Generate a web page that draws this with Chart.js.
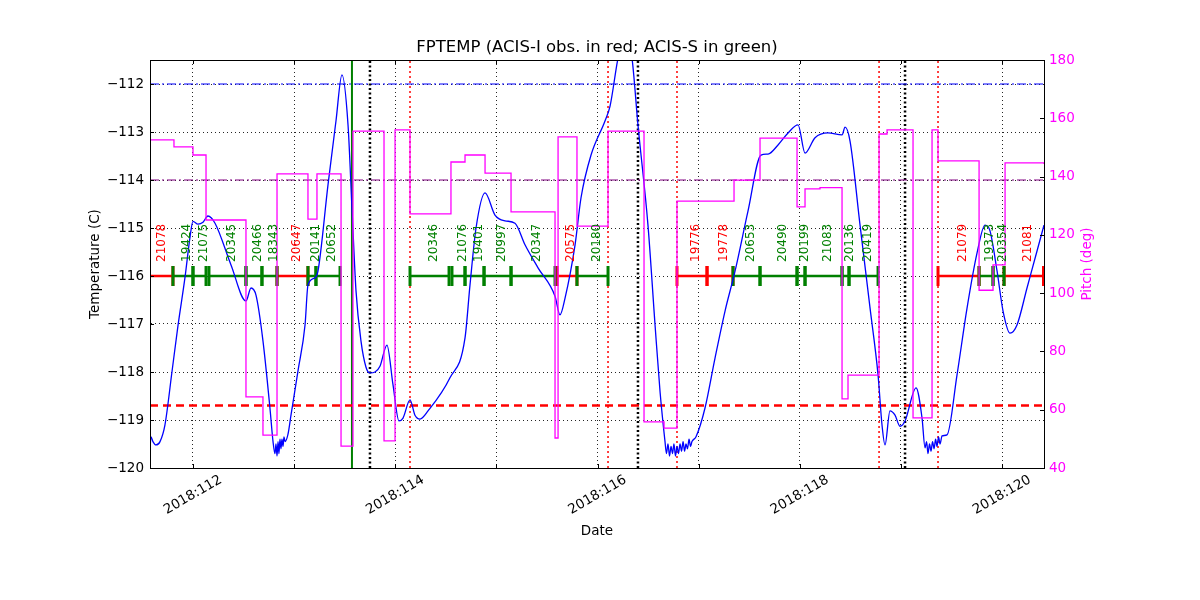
<!DOCTYPE html>
<html>
<head>
<meta charset="utf-8">
<title>FPTEMP</title>
<script src="https://cdn.jsdelivr.net/npm/chart.js@4.4.1/dist/chart.umd.min.js"></script>
<style>
  html, body { margin: 0; padding: 0; background: #fff; }
  canvas { display: block; }
</style>
</head>
<body>
<canvas id="fptemp" width="1200" height="600"></canvas>
<script>
// axis ranges (day of year 2018)
const xMin = 111.575, xMax = 120.415;
const tempMin = -120, tempMax = -111.5;
const pitchMin = 40, pitchMax = 180;

const xTickDays = [112, 114, 116, 118, 120];
const xTickLabels = ['2018:112', '2018:114', '2018:116', '2018:118', '2018:120'];

// FPTEMP trace
const tempDays = [
  111.575, 111.585, 111.604, 111.634, 111.674, 111.723, 111.792, 111.852, 111.921, 111.970,
  112.000, 112.049, 112.099, 112.148, 112.218, 112.376, 112.524, 112.574, 112.623, 112.692,
  112.761, 112.791, 112.811, 112.821, 112.831, 112.841, 112.850, 112.860, 112.870, 112.880,
  112.890, 112.900, 112.910, 112.939, 112.969, 113.038, 113.108, 113.137, 113.206, 113.236,
  113.335, 113.414, 113.473, 113.533, 113.572, 113.612, 113.661, 113.711, 113.750, 113.800,
  113.849, 113.918, 113.978, 114.037, 114.077, 114.146, 114.195, 114.245, 114.324, 114.541,
  114.690, 114.739, 114.799, 114.888, 114.986, 115.085, 115.184, 115.283, 115.412, 115.580,
  115.629, 115.679, 115.778, 115.837, 115.936, 116.074, 116.124, 116.203, 116.272, 116.341,
  116.400, 116.499, 116.569, 116.618, 116.667, 116.682, 116.697, 116.712, 116.727, 116.742,
  116.756, 116.771, 116.786, 116.801, 116.816, 116.831, 116.846, 116.861, 116.875, 116.890,
  116.905, 116.920, 116.934, 116.974, 117.063, 117.162, 117.261, 117.360, 117.488, 117.617,
  117.686, 117.785, 117.884, 117.983, 118.052, 118.151, 118.279, 118.418, 118.448, 118.497,
  118.596, 118.695, 118.774, 118.813, 118.843, 118.892, 118.942, 118.991, 119.041, 119.150,
  119.209, 119.239, 119.254, 119.268, 119.283, 119.298, 119.313, 119.328, 119.343, 119.357,
  119.372, 119.387, 119.407, 119.456, 119.555, 119.654, 119.753, 119.832, 119.881, 119.951,
  120.010, 120.079, 120.148, 120.247, 120.346, 120.415
];
const tempValues = [
  -119.60, -119.35, -119.45, -119.52, -119.45, -119.10, -118.00, -117.03, -116.03, -115.20,
  -114.86, -114.92, -114.88, -114.75, -114.90, -115.77, -116.52, -116.25, -116.40, -117.35,
  -118.75, -119.44, -119.70, -119.50, -119.75, -119.45, -119.70, -119.40, -119.60, -119.40,
  -119.55, -119.35, -119.45, -119.30, -118.90, -117.98, -117.02, -116.19, -116.04, -115.90,
  -114.10, -112.77, -111.81, -112.85, -114.58, -116.31, -117.35, -117.90, -118.02, -118.00,
  -117.88, -117.44, -118.27, -119.02, -118.96, -118.58, -118.90, -118.98, -118.81, -118.12,
  -117.29, -116.19, -115.00, -114.27, -114.73, -114.85, -114.90, -115.35, -115.83, -116.42,
  -116.81, -116.46, -115.35, -114.37, -113.48, -112.77, -112.46, -111.46, -110.90, -111.46,
  -112.85, -114.94, -117.02, -118.40, -119.44, -119.70, -119.50, -119.75, -119.55, -119.70,
  -119.50, -119.75, -119.55, -119.70, -119.50, -119.65, -119.45, -119.65, -119.50, -119.60,
  -119.40, -119.55, -119.45, -119.35, -118.75, -117.71, -116.73, -115.90, -114.65, -113.48,
  -113.46, -113.27, -113.02, -112.85, -113.44, -113.12, -113.02, -113.06, -112.90, -113.19,
  -114.94, -116.67, -118.06, -119.10, -119.52, -118.81, -118.90, -119.13, -119.02, -118.33,
  -118.96, -119.58, -119.45, -119.70, -119.50, -119.65, -119.45, -119.60, -119.40, -119.55,
  -119.35, -119.50, -119.33, -119.31, -118.06, -116.67, -115.52, -114.94, -115.06, -115.90,
  -116.73, -117.19, -117.02, -116.25, -115.48, -114.94
];

// pitch, one value from each day onward
const pitchDays = [
  111.575, 111.812, 112.000, 112.129, 112.524, 112.692, 112.831, 113.137, 113.226, 113.464,
  113.582, 113.889, 113.998, 114.146, 114.551, 114.690, 114.888, 115.145, 115.580, 115.610,
  115.797, 116.104, 116.460, 116.658, 116.786, 117.350, 117.607, 117.973, 118.052, 118.200,
  118.418, 118.477, 118.784, 118.863, 119.120, 119.308, 119.367, 119.773, 119.911, 120.030,
  120.415
];
const pitchValues = [
  152.6, 150.2, 147.4, 125.1, 64.4, 51.3, 140.9, 125.4, 140.9, 47.5,
  155.6, 49.3, 156.0, 127.2, 145.0, 147.4, 141.2, 127.9, 50.3, 153.6,
  123.0, 155.6, 55.8, 53.7, 131.6, 138.8, 153.2, 129.6, 135.8, 136.2,
  63.7, 71.9, 154.6, 156.0, 57.2, 156.0, 145.4, 101.0, 109.7, 144.7,
  144.3
];

// observations
const obsIds = ['21078', '19424', '21075', '20345', '20466', '18343', '20647', '20141', '20652',
  '20346', '21076', '19401', '20997', '20347', '20575', '20180',
  '19776', '19778', '20653', '20490', '20199', '21083', '20136', '20419',
  '21079', '19373', '20354', '21081'];
const obsStart = [111.506, 111.802, 112.000, 112.158, 112.524, 112.682, 112.831, 113.137, 113.216,
  114.146, 114.561, 114.690, 114.878, 115.145, 115.600, 115.797,
  116.786, 117.083, 117.340, 117.607, 117.973, 118.052, 118.418, 118.487,
  119.367, 119.773, 119.911, 120.020];
const obsStop = [111.802, 112.000, 112.129, 112.524, 112.682, 112.831, 113.137, 113.216, 113.454,
  114.532, 114.690, 114.878, 115.145, 115.580, 115.797, 116.104,
  117.083, 117.340, 117.607, 117.973, 118.052, 118.418, 118.487, 118.774,
  119.773, 119.911, 120.020, 120.410];
const obsInst = ['I', 'S', 'S', 'S', 'S', 'S', 'I', 'S', 'S',
  'S', 'S', 'S', 'S', 'S', 'I', 'S',
  'I', 'I', 'S', 'S', 'S', 'S', 'S', 'S',
  'I', 'S', 'S', 'I'];
const obsLevel = -116;

// event markers and limits
const redDotDays = [114.146, 116.104, 116.786, 118.784, 119.367];
const blackDotDays = [113.750, 116.400, 119.041];
const greenLineDays = [113.572];
const planLimit = -112, yellowLimit = -114, redLimit = -118.7;

const instColor = { I: '#ff0000', S: '#008000' };
const FONT = "'DejaVu Sans', sans-serif";

const vlines = days => days.flatMap(d => [{ x: d, y: tempMin }, { x: d, y: tempMax }, { x: d, y: null }]);
const hline = v => [{ x: xMin, y: v }, { x: xMax, y: v }];

const obsData = inst => {
    const pts = [];
    obsIds.forEach((id, i) => {
        if (obsInst[i] !== inst) return;
        pts.push({ x: obsStart[i], y: obsLevel }, { x: obsStop[i], y: obsLevel }, { x: obsStop[i], y: null });
    });
    return pts;
};

const obsDataset = inst => ({
    data: obsData(inst),
    borderColor: instColor[inst],
    borderWidth: 2.5,
    pointStyle: 'line',
    pointRotation: 90,
    pointRadius: 10,
    pointBorderWidth: 3,
    pointBorderColor: instColor[inst],
    clip: 0,
    order: 2
});

const overlay = {
    id: 'overlay',
    afterDatasetsDraw(chart) {
        const ctx = chart.ctx;
        const xs = chart.scales.x, ys = chart.scales.y;
        ctx.save();
        ctx.font = '12px ' + FONT;
        ctx.textAlign = 'left';
        ctx.textBaseline = 'middle';
        obsIds.forEach((id, i) => {
            const mid = (obsStart[i] + obsStop[i]) / 2;
            ctx.save();
            ctx.translate(xs.getPixelForValue(mid) + 4, ys.getPixelForValue(obsLevel) - 14);
            ctx.rotate(-Math.PI / 2);
            ctx.fillStyle = instColor[obsInst[i]];
            ctx.fillText(id, 0, 0);
            ctx.restore();
        });
        ctx.restore();
    },
    afterDraw(chart) {
        const ctx = chart.ctx;
        const a = chart.chartArea;
        const xs = chart.scales.x, ys = chart.scales.y, ys2 = chart.scales.y2;
        ctx.save();

        // frame and inward ticks
        ctx.strokeStyle = '#000';
        ctx.lineWidth = 1;
        ctx.strokeRect(Math.round(a.left) + 0.5, Math.round(a.top) + 0.5, Math.round(a.right - a.left), Math.round(a.bottom - a.top));
        ctx.beginPath();
        xs.ticks.forEach(t => {
            const px = Math.round(xs.getPixelForValue(t.value)) + 0.5;
            ctx.moveTo(px, a.bottom); ctx.lineTo(px, a.bottom - 4);
            ctx.moveTo(px, a.top); ctx.lineTo(px, a.top + 4);
        });
        ys.ticks.forEach(t => {
            const py = Math.round(ys.getPixelForValue(t.value)) + 0.5;
            ctx.moveTo(a.left, py); ctx.lineTo(a.left + 4, py);
        });
        ys2.ticks.forEach(t => {
            const py = Math.round(ys2.getPixelForValue(t.value)) + 0.5;
            ctx.moveTo(a.right, py); ctx.lineTo(a.right - 4, py);
        });
        ctx.stroke();

        // date labels, rotated and centred on the tick
        ctx.fillStyle = '#000';
        ctx.font = '13.5px ' + FONT;
        ctx.textAlign = 'center';
        ctx.textBaseline = 'middle';
        xTickDays.forEach((d, i) => {
            ctx.save();
            ctx.translate(xs.getPixelForValue(d), a.bottom + 27);
            ctx.rotate(-Math.PI / 6);
            ctx.fillText(xTickLabels[i], 0, 0);
            ctx.restore();
        });

        // titles
        const cx = (a.left + a.right) / 2, cy = (a.top + a.bottom) / 2;
        ctx.fillText('Date', cx, a.bottom + 63);
        ctx.save();
        ctx.translate(95, cy);
        ctx.rotate(-Math.PI / 2);
        ctx.fillText('Temperature (C)', 0, 0);
        ctx.restore();
        ctx.save();
        ctx.translate(1087, cy);
        ctx.rotate(-Math.PI / 2);
        ctx.fillStyle = '#ff00ff';
        ctx.fillText('Pitch (deg)', 0, 0);
        ctx.restore();
        ctx.font = '16.5px ' + FONT;
        ctx.fillText('FPTEMP (ACIS-I obs. in red; ACIS-S in green)', cx, a.top - 12);
        ctx.restore();
    }
};

new Chart(document.getElementById('fptemp'), {
    type: 'line',
    data: {
        datasets: [
            {
                label: 'Pitch',
                yAxisID: 'y2',
                data: pitchDays.map((d, i) => ({ x: d, y: pitchValues[i] })),
                borderColor: '#ff00ff',
                borderWidth: 1.3,
                stepped: true,
                order: 0
            },
            {
                label: 'FPTEMP',
                data: tempDays.map((d, i) => ({ x: d, y: tempValues[i] })),
                borderColor: '#0000ff',
                borderWidth: 1.3,
                cubicInterpolationMode: 'monotone',
                order: 1
            },
            obsDataset('S'),
            obsDataset('I'),
            { data: hline(planLimit), borderColor: '#0000ff', borderWidth: 1, borderDash: [9, 3, 2, 3], order: 3 },
            { data: hline(yellowLimit), borderColor: '#800080', borderWidth: 1, borderDash: [9, 3, 2, 3], order: 3 },
            { data: hline(redLimit), borderColor: '#ff0000', borderWidth: 2.5, borderDash: [8, 5], order: 3 },
            { data: vlines(redDotDays), borderColor: '#ff0000', borderWidth: 1.5, borderDash: [2, 3], order: 4 },
            { data: vlines(blackDotDays), borderColor: '#000000', borderWidth: 2.5, borderDash: [2, 2.5], order: 4 },
            { data: vlines(greenLineDays), borderColor: '#008000', borderWidth: 2, order: 4 }
        ]
    },
    options: {
        responsive: false,
        animation: false,
        devicePixelRatio: 1,
        layout: { padding: { top: 60, left: 0, right: 0, bottom: 0 } },
        elements: { point: { radius: 0 }, line: { fill: false } },
        plugins: {
            legend: { display: false },
            title: { display: false },
            tooltip: { enabled: false }
        },
        scales: {
            x: {
                type: 'linear',
                min: xMin,
                max: xMax,
                afterFit: s => { s.height = 132; },
                ticks: { display: false, stepSize: 1, includeBounds: false },
                grid: { color: 'rgba(0, 0, 0, 0.85)', lineWidth: 1, drawTicks: false },
                border: { display: true, color: '#000', width: 1, dash: [1, 3] }
            },
            y: {
                position: 'left',
                min: tempMin,
                max: tempMax,
                afterFit: s => { s.width = 150; },
                ticks: {
                    stepSize: 1,
                    includeBounds: false,
                    padding: 6,
                    color: '#000',
                    font: { size: 13.5, family: FONT },
                    callback: v => (v < 0 ? '\u2212' + Math.abs(v) : String(v))
                },
                grid: { color: 'rgba(0, 0, 0, 0.85)', lineWidth: 1, drawTicks: false },
                border: { display: true, color: '#000', width: 1, dash: [1, 3] }
            },
            y2: {
                position: 'right',
                min: pitchMin,
                max: pitchMax,
                afterFit: s => { s.width = 156; },
                ticks: {
                    stepSize: 20,
                    padding: 5,
                    color: '#ff00ff',
                    font: { size: 13.5, family: FONT }
                },
                grid: { display: false, drawTicks: false },
                border: { display: true, color: '#000', width: 1 }
            }
        }
    },
    plugins: [overlay]
});
</script>
</body>
</html>
